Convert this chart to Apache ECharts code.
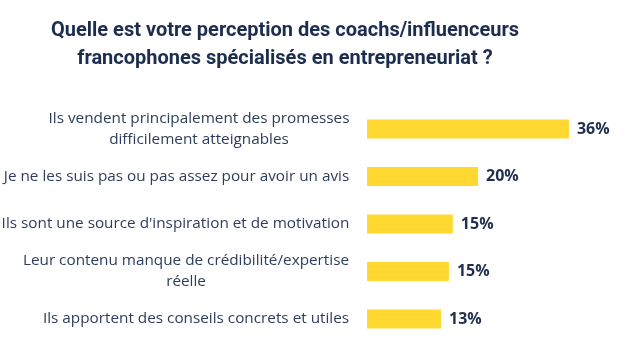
<!DOCTYPE html>
<html><head><meta charset="utf-8">
<script src="https://cdn.jsdelivr.net/npm/echarts@6/dist/echarts.min.js"></script>
<style>html,body{margin:0;padding:0;background:#fff}#c{width:627px;height:347px}</style>
</head><body><div id="c"></div>
<script>
const titleText = "Quelle est votre perception des coachs/influenceurs\nfrancophones spécialisés en entrepreneuriat ?";
const categories = [
  "Ils vendent principalement des promesses\ndifficilement atteignables",
  "Je ne les suis pas ou pas assez pour avoir un avis",
  "Ils sont une source d'inspiration et de motivation",
  "Leur contenu manque de crédibilité/expertise\nréelle",
  "Ils apportent des conseils concrets et utiles"
];
const values = [36.0, 19.8, 15.3, 14.6, 13.2];

const labelFont = {family:'Open Sans', size:15.3};
const ctx = document.createElement('canvas').getContext('2d');
ctx.font = labelFont.size + 'px "' + labelFont.family + '"';
const rich = {};
categories.forEach((c, i) => {
  const w = Math.max(...c.split('\n').map(l => ctx.measureText(l).width));
  rich['c' + i] = {width: Math.ceil(w) + 1, align: 'center', fontFamily: labelFont.family, fontSize: labelFont.size, lineHeight: 21, color: '#2d3d5b'};
});

const chart = echarts.init(document.getElementById('c'), null, {renderer:'canvas'});
chart.setOption({
  animation:false,
  backgroundColor:'#ffffff',
  title:{
    text:titleText, left:280, top:12, textAlign:'center',
    textStyle:{fontFamily:'Roboto', fontWeight:'bold', fontSize:20, lineHeight:28, color:'#1c2d4f'}
  },
  grid:{left:367, right:35.6, top:105.25, bottom:4.25, containLabel:false, outerBoundsMode:'none'},
  xAxis:{type:'value', min:0, max:40, show:false},
  yAxis:{
    type:'category', inverse:true, data:categories,
    axisLine:{show:false}, axisTick:{show:false},
    axisLabel:{margin:17, fontFamily:labelFont.family, fontSize:labelFont.size, lineHeight:21, color:'#2d3d5b', align:'right',
      formatter:(v, i) => v.split('\n').map(l => '{c' + i + '|' + l + '}').join('\n'),
      rich:rich}
  },
  series:[{
    type:'bar', data:values, barWidth:19,
    itemStyle:{color:'#ffd932'},
    label:{show:true, position:'right', distance:8,
      formatter:p=>Math.round(p.value)+'%',
      fontFamily:'Open Sans', fontWeight:'bold', fontSize:16, color:'#1f2f4f'}
  }]
});
</script></body></html>
